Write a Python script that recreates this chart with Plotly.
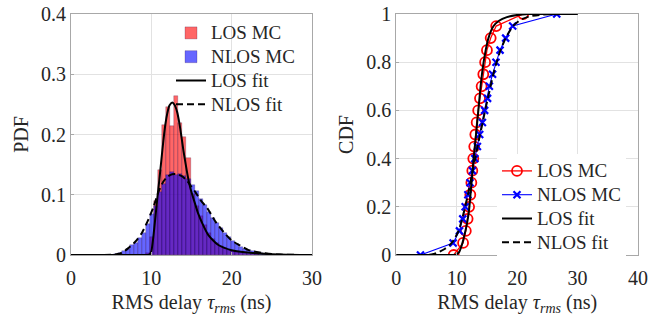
import plotly.graph_objects as go

# ---------------- data ----------------
# PDF histogram (bin width 0.5 ns)
los_bin_centers = [9.625, 10.125, 10.625, 11.125, 11.625, 12.125, 12.625, 13.125, 13.625, 14.125,
                   14.625, 15.125, 15.625, 16.125, 16.625, 17.125, 17.625, 18.125, 18.625, 19.125,
                   19.625, 20.125, 20.625, 21.125, 21.625, 22.125, 22.625, 23.125]
los_pdf_mc = [0.004, 0.030, 0.090, 0.141, 0.216, 0.246, 0.214, 0.264, 0.219, 0.196,
              0.161, 0.102, 0.082, 0.064, 0.049, 0.036, 0.027, 0.020, 0.015, 0.011,
              0.008, 0.006, 0.005, 0.004, 0.003, 0.002, 0.002, 0.001]

nlos_bin_centers = [5.625, 6.125, 6.625, 7.125, 7.625, 8.125, 8.625, 9.125, 9.625, 10.125,
                    10.625, 11.125, 11.625, 12.125, 12.625, 13.125, 13.625, 14.125, 14.625, 15.125,
                    15.625, 16.125, 16.625, 17.125, 17.625, 18.125, 18.625, 19.125, 19.625, 20.125,
                    20.625, 21.125, 21.625, 22.125, 22.625, 23.125, 23.625, 24.125, 24.625]
nlos_pdf_mc = [0.001, 0.003, 0.007, 0.010, 0.016, 0.020, 0.028, 0.036, 0.052, 0.068,
               0.082, 0.105, 0.118, 0.133, 0.137, 0.132, 0.134, 0.131, 0.126, 0.116,
               0.106, 0.093, 0.083, 0.072, 0.062, 0.053, 0.044, 0.037, 0.030, 0.023,
               0.018, 0.014, 0.010, 0.008, 0.006, 0.004, 0.003, 0.002, 0.001]

# PDF fits
los_fit_x = [0, 5, 8, 9.5, 9.8, 10.0, 10.25, 10.5, 10.75, 11.0, 11.25, 11.5, 11.75, 12.0, 12.25,
             12.6, 12.9, 13.2, 13.5, 13.75, 14.0, 14.4, 14.7, 15.0, 15.4, 15.8, 16.3, 17.1, 18.3,
             20.0, 23.0, 26.0, 30.0]
los_fit_pdf = [0, 0, 0, 0, 0.001, 0.006, 0.03, 0.062, 0.095, 0.125, 0.158, 0.19, 0.217, 0.236, 0.248,
               0.253, 0.249, 0.238, 0.218, 0.196, 0.173, 0.141, 0.12, 0.104, 0.087, 0.07, 0.054, 0.033, 0.017,
               0.008, 0.003, 0.001, 0]

nlos_fit_x = [0, 3, 5, 6, 6.5, 7.1, 8.0, 8.8, 9.6, 10.25, 10.9, 11.5, 12.0, 12.6, 13.2, 13.8, 14.4,
              15.0, 15.5, 16.2, 17.0, 18.0, 19.0, 20.0, 21.0, 22.1, 23.1, 24.0, 25.0, 26.0, 28.0, 30.0]
nlos_fit_pdf = [0, 0, 0.0005, 0.002, 0.005, 0.011, 0.022, 0.036, 0.058, 0.079, 0.105, 0.122, 0.13, 0.134,
                0.134, 0.131, 0.124, 0.113, 0.104, 0.09, 0.077, 0.055, 0.038, 0.024, 0.016, 0.008, 0.005,
                0.003, 0.0015, 0.0007, 0.0002, 0]

# CDF Monte-Carlo points (levels 0, 0.05, ..., 1)
cdf_levels = [0, 0.05, 0.1, 0.15, 0.2, 0.25, 0.3, 0.35, 0.4, 0.45, 0.5,
              0.55, 0.6, 0.65, 0.7, 0.75, 0.8, 0.85, 0.9, 0.95, 1.0]
los_cdf_x = [9.5, 11.05, 11.5, 11.8, 12.05, 12.25, 12.42, 12.58, 12.74, 12.9, 13.08,
             13.3, 13.55, 13.85, 14.12, 14.4, 14.7, 15.0, 15.62, 16.53, 21.0]
nlos_cdf_x = [4.0, 9.4, 10.45, 11.0, 11.4, 11.85, 12.2, 12.6, 13.0, 13.42, 13.8,
              14.25, 14.62, 15.1, 15.4, 15.93, 16.5, 17.17, 18.1, 19.26, 26.55]

# CDF fits
los_fitc_x = [0, 5, 9.0, 9.6, 10.0, 10.4, 10.7, 11.0, 11.3, 11.6, 11.9, 12.1, 12.45, 12.8, 13.2,
              13.58, 13.95, 14.45, 15.25, 16.1, 17.0, 18.3, 20.0, 22.0, 30.0]
los_fitc_y = [0, 0, 0, 0, 0.003, 0.012, 0.03, 0.055, 0.085, 0.118, 0.16, 0.2, 0.3, 0.4, 0.5,
              0.6, 0.7, 0.8, 0.9, 0.95, 0.972, 0.987, 0.996, 1.0, 1.0]
nlos_fitc_x = [0, 4, 5, 6, 7, 8, 9, 9.6, 10.3, 10.9, 11.4, 11.85, 12.25, 12.65, 13.05, 13.45, 13.85,
               14.3, 14.7, 15.15, 15.6, 16.05, 16.6, 17.25, 18.1, 19.3, 20.5, 22.0, 24.0, 27.0, 30.0]
nlos_fitc_y = [0, 0, 0.0005, 0.003, 0.012, 0.025, 0.045, 0.065, 0.1, 0.15, 0.2, 0.25, 0.3, 0.35, 0.4,
               0.45, 0.5, 0.55, 0.6, 0.65, 0.7, 0.75, 0.8, 0.85, 0.9, 0.95, 0.975, 0.99, 0.997, 1.0, 1.0]

pdf_xticks = [0, 10, 20, 30]
pdf_yticks = [0, 0.1, 0.2, 0.3, 0.4]
cdf_xticks = [0, 10, 20, 30, 40]
cdf_yticks = [0, 0.2, 0.4, 0.6, 0.8, 1]

# ---------------- figure ----------------
SERIF = "Liberation Serif, Times New Roman, Times, serif"
TXT = "#262626"
LEG_TXT = "<span style='font-size:19px'>{}</span>"
fig = go.Figure()

edge = dict(color="rgba(40,0,60,0.45)", width=0.5)
fig.add_trace(go.Bar(x=los_bin_centers, y=los_pdf_mc, width=0.5, name=LEG_TXT.format("LOS MC"),
                     marker=dict(color="rgba(255,0,0,0.6)", line=edge),
                     xaxis="x", yaxis="y", legend="legend"))
fig.add_trace(go.Bar(x=nlos_bin_centers, y=nlos_pdf_mc, width=0.5, name=LEG_TXT.format("NLOS MC"),
                     marker=dict(color="rgba(0,0,255,0.6)", line=edge),
                     xaxis="x", yaxis="y", legend="legend"))
fig.add_trace(go.Scatter(x=los_fit_x, y=los_fit_pdf, mode="lines", name=LEG_TXT.format("LOS fit"),
                         line=dict(color="black", width=2, shape="spline", smoothing=0.6),
                         xaxis="x", yaxis="y", legend="legend"))
fig.add_trace(go.Scatter(x=nlos_fit_x, y=nlos_fit_pdf, mode="lines", name=LEG_TXT.format("NLOS fit"),
                         line=dict(color="black", width=2, dash="7px,4px", shape="spline", smoothing=0.6),
                         xaxis="x", yaxis="y", legend="legend"))

fig.add_trace(go.Scatter(x=los_cdf_x, y=cdf_levels, mode="lines+markers", name=LEG_TXT.format("LOS MC"),
                         line=dict(color="#ff0000", width=1.3),
                         marker=dict(symbol="circle-open", size=10, color="#ff0000", line=dict(width=1.8)),
                         xaxis="x2", yaxis="y2", legend="legend2"))
fig.add_trace(go.Scatter(x=nlos_cdf_x, y=cdf_levels, mode="lines+markers", name=LEG_TXT.format("NLOS MC"),
                         line=dict(color="#0000ff", width=1.1),
                         marker=dict(symbol="x-thin", size=7, color="#0000ff", line=dict(width=2.2, color="#0000ff")),
                         xaxis="x2", yaxis="y2", legend="legend2"))
fig.add_trace(go.Scatter(x=los_fitc_x, y=los_fitc_y, mode="lines", name=LEG_TXT.format("LOS fit"),
                         line=dict(color="black", width=2, shape="spline", smoothing=0.5),
                         xaxis="x2", yaxis="y2", legend="legend2"))
fig.add_trace(go.Scatter(x=nlos_fitc_x, y=nlos_fitc_y, mode="lines", name=LEG_TXT.format("NLOS fit"),
                         line=dict(color="black", width=2, dash="7px,4px", shape="spline", smoothing=0.5),
                         xaxis="x2", yaxis="y2", legend="legend2"))

W, H = 672, 316
ax_common = dict(showline=True, linecolor="#a8a8a8", linewidth=1, mirror=True, automargin=False,
                 showgrid=True, gridcolor="#e2e2e2", gridwidth=1, zeroline=False,
                 ticks="inside", ticklen=3, tickcolor="#a8a8a8",
                 tickfont=dict(family=SERIF, size=20, color=TXT))
xtitle = "RMS delay <i>τ</i><sub><i>rms</i></sub> (ns)"
ydom = [(H - 255) / H, (H - 14) / H]

fig.update_layout(
    width=W, height=H,
    margin=dict(l=0, r=0, t=0, b=0, autoexpand=False),
    paper_bgcolor="white", plot_bgcolor="white",
    barmode="overlay", bargap=0,
    font=dict(family=SERIF, color=TXT, size=20),
    xaxis=dict(ax_common, domain=[71 / W, 312 / W], range=[0, 30], tickvals=pdf_xticks,
               anchor="y", ticklabelstandoff=5,
               title=dict(text=xtitle, font=dict(family=SERIF, size=20), standoff=7)),
    yaxis=dict(ax_common, domain=ydom, range=[0, 0.4], tickvals=pdf_yticks,
               ticktext=["0", "0.1", "0.2", "0.3", "0.4"],
               anchor="x", title=dict(text="PDF", font=dict(family=SERIF, size=20), standoff=7)),
    xaxis2=dict(ax_common, domain=[396.3 / W, 638 / W], range=[0, 40], tickvals=cdf_xticks,
                anchor="y2", ticklabelstandoff=5,
                title=dict(text=xtitle, font=dict(family=SERIF, size=20), standoff=7)),
    yaxis2=dict(ax_common, domain=ydom, range=[0, 1], tickvals=cdf_yticks,
                ticktext=["0", "0.2", "0.4", "0.6", "0.8", "1"],
                anchor="x2", title=dict(text="CDF", font=dict(family=SERIF, size=20), standoff=7)),
    legend=dict(x=171 / W, y=1 - 16 / H, xanchor="left", yanchor="top",
                bgcolor="rgba(255,255,255,0)", borderwidth=0, font=dict(family=SERIF, size=16, color=TXT),
                tracegroupgap=0, itemwidth=30),
    legend2=dict(x=497 / W, y=1 - 154 / H, xanchor="left", yanchor="top",
                 bgcolor="white", borderwidth=0, font=dict(family=SERIF, size=16, color=TXT),
                 tracegroupgap=0, itemwidth=30),
    showlegend=True,
)

fig.write_html("out.html", config={"displayModeBar": False},
               post_script="document.body.style.margin='0px';")
